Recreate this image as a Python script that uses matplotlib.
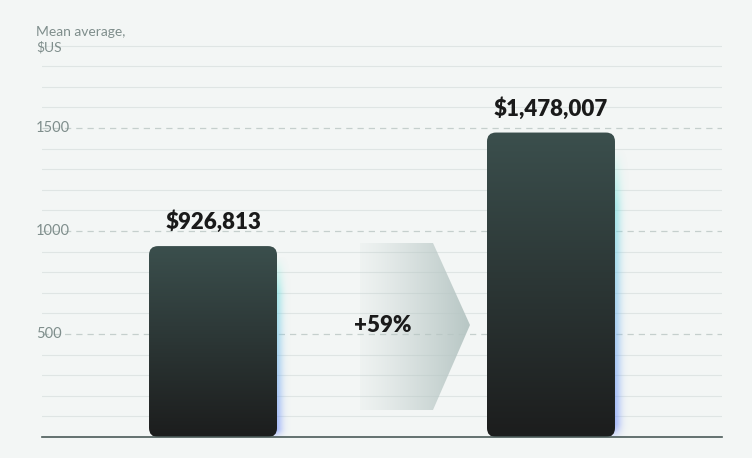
import numpy as np
import matplotlib
matplotlib.use("Agg")
import matplotlib.pyplot as plt
from matplotlib.patches import FancyBboxPatch, Polygon
from matplotlib.colors import LinearSegmentedColormap

categories = ["Before", "After"]
values = [926813, 1478007]
value_labels = ["$926,813", "$1,478,007"]
change_label = "+59%"
yticks = [500, 1000, 1500]
ytick_labels = ["500", "1000", "1500"]

W, H = 752, 458
fig = plt.figure(figsize=(W/100, H/100), dpi=100)
bg = "#f3f6f5"
fig.patch.set_facecolor(bg)
x0, x1, yb, yt = 42, 722, 437, 45
ax = fig.add_axes([x0/W, (H-yb)/H, (x1-x0)/W, (yb-yt)/H])
ax.set_facecolor(bg)
ymax = 1903
xa, xb = -0.506, 1.506
ax.set_xlim(xa, xb); ax.set_ylim(0, ymax)
for s in ax.spines.values(): s.set_visible(False)
ax.spines["bottom"].set_visible(True); ax.spines["bottom"].set_color("#4a5a58")
ax.spines["bottom"].set_linewidth(1.2)
ax.set_xticks([]); ax.set_yticks([])

pxx = (xb-xa)/(x1-x0); pxy = ymax/(yb-yt)
def px2x(p): return xa + (p-x0)*pxx

for v in range(100, 1901, 100):
    if v % 500 == 0:
        ax.axhline(v, color="#c5cfcd", lw=0.9, ls=(0, (5, 4)), zorder=0)
    else:
        ax.axhline(v, color="#dfe5e4", lw=0.8, zorder=0)
for t, l in zip(yticks, ytick_labels):
    fig.text(36/W, 1-(yb - t/pxy)/H, l, fontsize=10.5, color="#7f8e8c",
             ha="left", va="center", family="Lato")
fig.text(36/W, 1-40/H, "Mean average,\n$US", fontsize=10, color="#7f8e8c",
         ha="left", va="center", family="Lato", linespacing=1.3)

width = 128*pxx
cm_bar = LinearSegmentedColormap.from_list("b", ["#1c1d1d", "#3b4f4d"])
glow = np.zeros((80, 30, 4))
top_c = np.array([0.45, 0.95, 0.85]); bot_c = np.array([0.45, 0.55, 1.0])
for i in range(80):
    f = i/79
    c = bot_c*(1-f) + top_c*f
    vf = min(1.0, (1-f)/0.2) * min(1.0, f/0.05 + 0.3)
    for j in range(30):
        glow[i, j, :3] = c
        glow[i, j, 3] = 0.6*vf*np.exp(-((j-8)/7.0)**2)
for i, (v, lab) in enumerate(zip(values, value_labels)):
    vv = v/1000
    ax.imshow(glow, extent=[i+width/2-10*pxx, i+width/2+20*pxx, 0, vv*0.95],
              aspect="auto", origin="lower", zorder=1, interpolation="bilinear")
    patch = FancyBboxPatch((i-width/2, 0), width, vv, boxstyle="round,pad=0,rounding_size=%f" % (9*pxx),
                           mutation_aspect=pxy/pxx, fc="none", ec="none", zorder=2)
    ax.add_patch(patch)
    grad = np.linspace(0, 1, 256).reshape(-1, 1)
    im = ax.imshow(grad, extent=[i-width/2, i+width/2, 0, vv], aspect="auto",
                   origin="lower", cmap=cm_bar, zorder=2)
    im.set_clip_path(patch)
    ax.text(i, vv + 13*pxy, lab, ha="center", va="bottom", fontsize=16,
            fontweight="heavy", family="Lato", color="#1a1a1a")

ytop = (yb-243)*pxy; ybot = (yb-410)*pxy; ymid = (yb-325)*pxy
pts = [(px2x(360), ytop), (px2x(433), ytop), (px2x(470), ymid),
       (px2x(433), ybot), (px2x(360), ybot)]
poly = Polygon(pts, closed=True, fc="none", ec="none", zorder=1)
ax.add_patch(poly)
g = np.zeros((2, 256, 4))
cc = np.array([0.72, 0.78, 0.77])
for j in range(256):
    g[:, j, :3] = cc
    g[:, j, 3] = 0.08 + 0.92*(j/255)**1.2
im = ax.imshow(g, extent=[px2x(360), px2x(470), ybot, ytop], aspect="auto", zorder=1)
im.set_clip_path(poly)
ax.text(px2x(383), ymid, change_label, ha="center", va="center", fontsize=16,
        fontweight="heavy", family="Lato", color="#1a1a1a")

fig.savefig("out.png", dpi=100, facecolor=bg)
